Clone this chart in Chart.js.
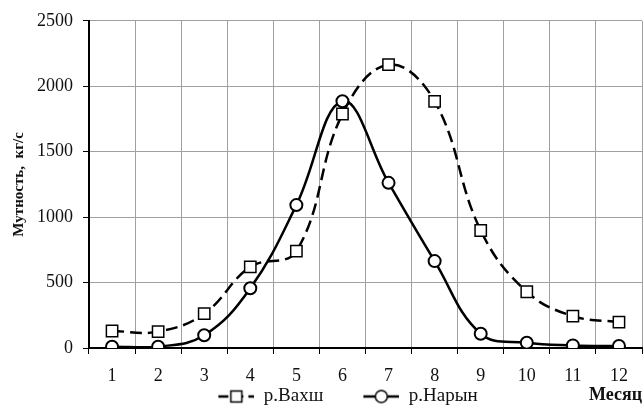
<!DOCTYPE html>
<html lang="ru">
<head>
<meta charset="UTF-8">
<title>Мутность</title>
<script src="https://cdn.jsdelivr.net/npm/chart.js"></script>
<style>
  body { margin: 0; background: #fff; overflow: hidden; }
  #wrap { width: 643px; height: 405px; }
</style>
</head>
<body>
<div id="wrap"><canvas id="chart" width="643" height="405"></canvas></div>
<script>
// месяцы и значения мутности, кг/с
const months = ['1', '2', '3', '4', '5', '6', '7', '8', '9', '10', '11', '12'];
const vakhsh = [130, 125, 262, 620, 740, 1788, 2165, 1885, 898, 430, 244, 198];
const naryn  = [10, 10, 97, 456, 1092, 1885, 1262, 664, 109, 40, 20, 15];
const yTicks = [0, 500, 1000, 1500, 2000, 2500];

const serif = '"Liberation Serif", "Times New Roman", serif';

// картинки для легенды: пустое место слева, потом линия с маркером
const ICON_GAP = 38, ICON_LINE = 36;
function legendIcon(dashed, marker) {
  const c = document.createElement('canvas');
  c.width = ICON_GAP + ICON_LINE; c.height = 16;
  const g = c.getContext('2d');
  const mid = ICON_GAP + ICON_LINE / 2;
  g.strokeStyle = '#000';
  g.lineWidth = 2.5;
  if (dashed) g.setLineDash([10, 5]);
  g.beginPath(); g.moveTo(ICON_GAP, 8); g.lineTo(ICON_GAP + ICON_LINE, 8); g.stroke();
  g.setLineDash([]);
  g.fillStyle = '#fff';
  g.lineWidth = 1.5;
  g.beginPath();
  if (marker === 'rect') g.rect(mid - 5.5, 2.5, 11, 11);
  else g.arc(mid, 8, 6, 0, Math.PI * 2);
  g.fill(); g.stroke();
  return c;
}
const icons = [legendIcon(true, 'rect'), legendIcon(false, 'circle')];

const extras = {
  id: 'extras',
  afterLayout(chart) {
    // легенда в отчёте сдвинута вправо
    chart.legend.left += 8;
    chart.legend.right += 8;
  },
  afterDraw(chart) {
    const ctx = chart.ctx;
    ctx.save();
    ctx.font = 'bold 18px ' + serif;
    ctx.fillStyle = '#111';
    ctx.textAlign = 'right';
    ctx.textBaseline = 'middle';
    ctx.fillText('Месяц', 642, 395);
    ctx.restore();
  }
};

new Chart(document.getElementById('chart'), {
  type: 'line',
  data: {
    labels: months,
    datasets: [
      {
        label: 'р.Вахш',
        data: vakhsh,
        borderColor: '#000',
        borderWidth: 2.5,
        borderDash: [12, 6],
        tension: 0.4,
        pointStyle: 'rect',
        pointRadius: 8,
        pointBorderWidth: 1.5,
        pointBackgroundColor: '#fff',
        pointBorderColor: '#000'
      },
      {
        label: 'р.Нарын',
        data: naryn,
        borderColor: '#000',
        borderWidth: 2.5,
        tension: 0.4,
        pointStyle: 'circle',
        pointRadius: 6,
        pointBorderWidth: 2,
        pointBackgroundColor: '#fff',
        pointBorderColor: '#000'
      }
    ]
  },
  options: {
    responsive: false,
    animation: false,
    layout: { autoPadding: false, padding: { top: 10, right: 1, left: 0, bottom: -11 } },
    scales: {
      x: {
        offset: true,
        afterFit(scale) { scale.paddingLeft = 0; scale.paddingRight = 0; scale.height = 37; },
        grid: { offset: true, color: '#a0a0a0', lineWidth: 1, tickColor: '#000', tickLength: 6 },
        border: { color: '#000', width: 2 },
        ticks: { color: '#111', font: { family: serif, size: 18, lineHeight: 1 }, padding: 13, maxRotation: 0 }
      },
      y: {
        min: 0,
        max: 2500,
        afterBuildTicks(scale) { scale.ticks = yTicks.map(v => ({ value: v })); },
        afterFit(scale) { scale.width = 89; },
        grid: { color: '#a0a0a0', lineWidth: 1, tickColor: '#000', tickLength: 6 },
        border: { color: '#000', width: 2 },
        ticks: {
          color: '#111',
          font: { family: serif, size: 18 },
          padding: 10,
          callback: v => String(v)
        },
        title: {
          display: true,
          text: 'Мутность,  кг/с',
          color: '#111',
          font: { family: serif, size: 15, weight: 'bold' },
          padding: { top: 10, bottom: 0 }
        }
      }
    },
    plugins: {
      legend: {
        position: 'bottom',
        labels: {
          usePointStyle: true,
          pointStyleWidth: ICON_GAP + ICON_LINE,
          boxHeight: 16,
          color: '#111',
          font: { family: serif, size: 19, lineHeight: 1 },
          padding: 2,
          generateLabels(chart) {
            const items = Chart.defaults.plugins.legend.labels.generateLabels(chart);
            items.forEach((it, i) => { it.pointStyle = icons[i]; });
            return items;
          }
        }
      },
      tooltip: { enabled: false }
    }
  },
  plugins: [extras]
});
</script>
</body>
</html>
